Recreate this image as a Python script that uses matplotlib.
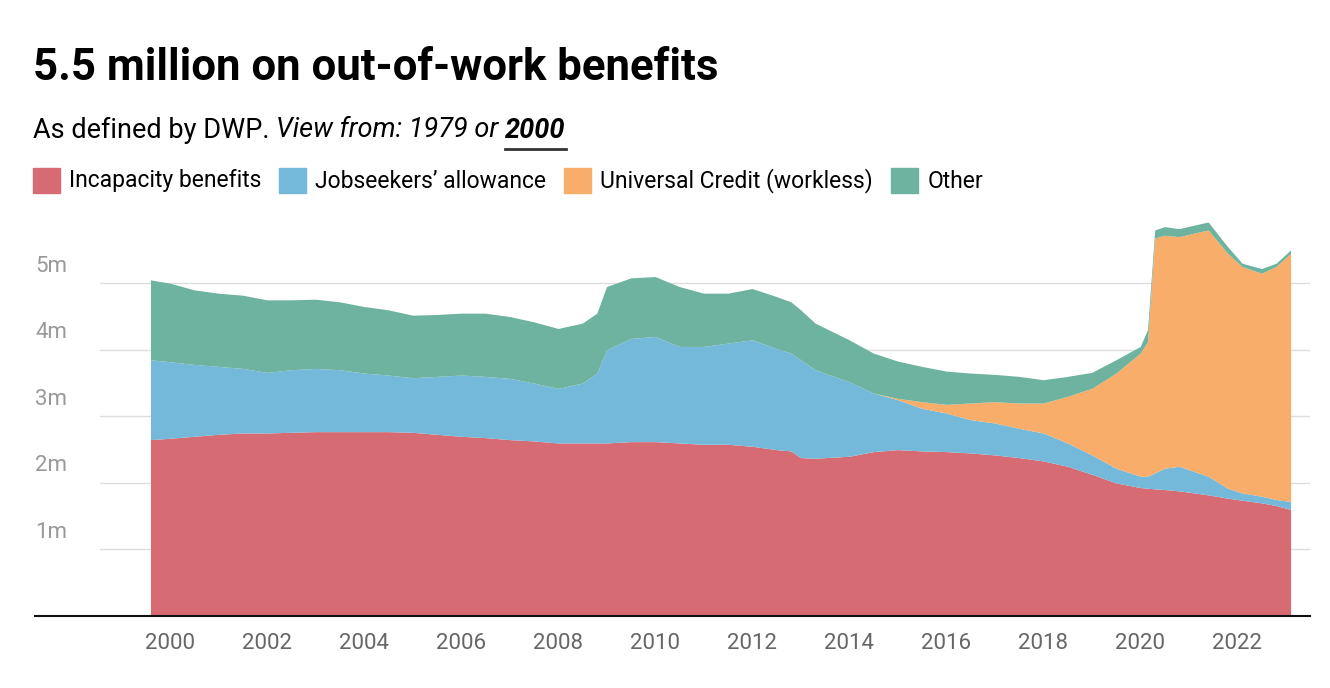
import matplotlib
matplotlib.use("Agg")
import matplotlib.pyplot as plt
from matplotlib.patches import Rectangle
from matplotlib.lines import Line2D

plt.rcParams['font.family'] = ['Roboto', 'DejaVu Sans']

# --- data (millions, cumulative stack tops) ---
years = [1999.6, 2000, 2000.5, 2001, 2001.5, 2002, 2002.5, 2003, 2003.5, 2004, 2004.5,
         2005, 2005.5, 2006, 2006.5, 2007, 2007.5, 2008, 2008.5, 2008.8, 2009, 2009.5,
         2010, 2010.5, 2011, 2011.5, 2012, 2012.5, 2012.8, 2013.0, 2013.3, 2014, 2014.5,
         2015, 2015.5, 2016, 2016.5, 2017, 2017.5, 2018, 2018.5, 2019, 2019.5, 2020,
         2020.15, 2020.3, 2020.5, 2020.8, 2021.4, 2021.8, 2022.1, 2022.5, 2022.8, 2023.1]
incapacity_top = [2.65, 2.67, 2.7, 2.73, 2.75, 2.75, 2.76, 2.77, 2.77, 2.77, 2.77,
                  2.76, 2.73, 2.7, 2.68, 2.65, 2.63, 2.6, 2.6, 2.6, 2.6, 2.62,
                  2.62, 2.6, 2.58, 2.58, 2.55, 2.5, 2.48, 2.38, 2.37, 2.4, 2.47,
                  2.5, 2.48, 2.47, 2.45, 2.42, 2.38, 2.33, 2.25, 2.13, 2.0, 1.93,
                  1.92, 1.91, 1.9, 1.88, 1.82, 1.77, 1.74, 1.7, 1.66, 1.6]
jsa_top = [3.85, 3.82, 3.78, 3.75, 3.72, 3.66, 3.7, 3.72, 3.7, 3.65, 3.62,
           3.58, 3.6, 3.62, 3.6, 3.57, 3.5, 3.42, 3.5, 3.65, 4.0, 4.17,
           4.2, 4.05, 4.05, 4.1, 4.15, 4.02, 3.95, 3.85, 3.7, 3.52, 3.35,
           3.25, 3.12, 3.05, 2.95, 2.9, 2.82, 2.75, 2.6, 2.42, 2.22, 2.1,
           2.1, 2.15, 2.22, 2.25, 2.1, 1.92, 1.85, 1.8, 1.75, 1.72]
uc_top = [3.85, 3.82, 3.78, 3.75, 3.72, 3.66, 3.7, 3.72, 3.7, 3.65, 3.62,
          3.58, 3.6, 3.62, 3.6, 3.57, 3.5, 3.42, 3.5, 3.65, 4.0, 4.17,
          4.2, 4.05, 4.05, 4.1, 4.15, 4.02, 3.95, 3.85, 3.7, 3.52, 3.35,
          3.27, 3.22, 3.18, 3.2, 3.22, 3.2, 3.2, 3.3, 3.42, 3.65, 3.95,
          4.12, 5.68, 5.72, 5.7, 5.8, 5.45, 5.25, 5.15, 5.25, 5.45]
total_top = [5.05, 5.0, 4.9, 4.85, 4.82, 4.75, 4.75, 4.76, 4.72, 4.65, 4.6,
             4.52, 4.53, 4.55, 4.55, 4.5, 4.42, 4.32, 4.4, 4.55, 4.95, 5.08,
             5.1, 4.95, 4.85, 4.85, 4.92, 4.8, 4.72, 4.6, 4.4, 4.15, 3.95,
             3.83, 3.75, 3.68, 3.65, 3.63, 3.6, 3.55, 3.6, 3.66, 3.85, 4.05,
             4.3, 5.8, 5.85, 5.82, 5.92, 5.55, 5.3, 5.22, 5.3, 5.5]

series = ['Incapacity benefits', 'Jobseekers\u2019 allowance', 'Universal Credit (workless)', 'Other']
colors = ['#d66b73', '#74b9d9', '#f9ad6b', '#6db39f']
y_ticks = [1, 2, 3, 4, 5]
x_ticks = list(range(2000, 2023, 2))

fig = plt.figure(figsize=(13.3, 6.88), dpi=100)
ax = fig.add_axes([35 / 1330, 72 / 688, 1275 / 1330, 416 / 688])
ax.set_xlim(1997.22, 2023.5)
ax.set_ylim(0, 6.25)

for yv in y_ticks:
    ax.plot([1998.56, 2023.5], [yv, yv], color='#dddddd', lw=1, zorder=0)
    ax.text(1997.22, yv + 0.1, f'{yv}m', color='#999999', fontsize=16, va='bottom', ha='left')

bounds = [[0] * len(years), incapacity_top, jsa_top, uc_top, total_top]
for i in range(4):
    ax.fill_between(years, bounds[i], bounds[i + 1], color=colors[i], lw=0, zorder=2)

ax.axhline(0, color='#111111', lw=1.5, zorder=5, clip_on=False)
for s in ['top', 'right', 'left', 'bottom']:
    ax.spines[s].set_visible(False)
ax.set_yticks([])
ax.set_xticks(x_ticks)
ax.set_xticklabels([str(x) for x in x_ticks], fontsize=16, color='#666666')
ax.tick_params(axis='x', length=0, pad=12)

# --- title, subtitle, legend ---
fig.text(33 / 1330, 1 - 68 / 688, '5.5 million on out-of-work benefits', fontsize=31.5,
         fontweight='bold', va='center', ha='left')
fig.canvas.draw()
r = fig.canvas.get_renderer()
xpos = 33 / 1330
sub_y = 1 - 130 / 688
parts = [('As defined by DWP. ', 'normal', 'normal'), ('View from: 1979 or ', 'italic', 'normal'),
         ('2000', 'italic', 'bold')]
for txt, st, wt in parts:
    t = fig.text(xpos, sub_y, txt, fontsize=19.5, style=st, fontweight=wt, va='center', ha='left')
    bb = t.get_window_extent(r)
    if txt == '2000':
        fig.add_artist(Line2D([xpos, xpos + bb.width / 1330], [1 - 149 / 688] * 2,
                              color='#333333', lw=2, transform=fig.transFigure))
    xpos += bb.width / 1330

lx = 33 / 1330
ly = 1 - 181 / 688
for name, c in zip(series, colors):
    fig.add_artist(Rectangle((lx, ly - 12 / 688), 27 / 1330, 25 / 688, color=c,
                             transform=fig.transFigure))
    t = fig.text(lx + 36 / 1330, ly, name, fontsize=16.5, va='center', ha='left')
    lx += 36 / 1330 + t.get_window_extent(r).width / 1330 + 18 / 1330

fig.savefig('out.png', dpi=100)
